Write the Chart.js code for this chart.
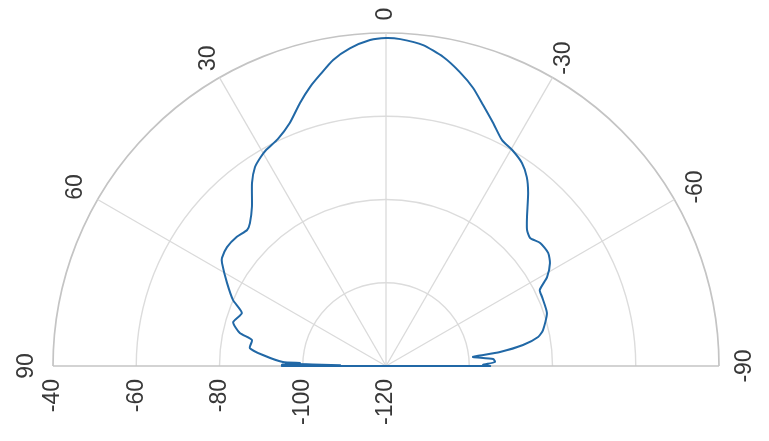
<!DOCTYPE html>
<html>
<head>
<meta charset="utf-8">
<script src="https://cdn.jsdelivr.net/npm/chart.js@4/dist/chart.umd.min.js"></script>
<style>
  html, body { margin: 0; padding: 0; background: #ffffff; }
  #wrap { width: 769px; height: 441px; }
</style>
</head>
<body>
<div id="wrap"><canvas id="c" width="769" height="441"></canvas></div>
<script>
// Radiation pattern, half plane: angle in degrees (0 = boresight, positive to the left)
const angleDeg = [-90, -90, -89.4, -87.9, -86.3, -84.1, -83.7, -83.0, -81.3, -79.2, -77.1, -71.8,
  -66.1, -63.7, -61.1, -57.9, -55.1, -51.4, -48.4, -46.0, -43.4, -39.4, -36.7, -33.8, -30.3,
  -27.2, -23.8, -20.4, -17.4, -14.1, -10.5, -6.6, -2.5, 0, 2.8, 6.5, 9.8, 12.8, 15.2, 18.1,
  21.6, 25.5, 28.9, 31.0, 33.4, 36.2, 40.1, 43.6, 45.6, 49.1, 53.2, 56.6, 57.9, 62.4, 66.7,
  69.8, 74.0, 77.3, 79.0, 82.5, 84.9, 87.8, 88.0, 88.6, 89.0, 89.3, 89.5, 89.7, 89.85, 90, 90];
// Level in dB at each angle
const gainDb = [-120, -95.0, -96.7, -93.8, -94.2, -99.0, -98.0, -92.4, -86.7, -82.8, -81.3, -79.3,
  -79.0, -78.8, -75.8, -73.5, -72.5, -72.6, -73.7, -72.9, -70.7, -66.2, -63.4, -61.3, -59.9,
  -59.0, -56.2, -53.1, -50.0, -47.2, -44.5, -42.4, -41.4, -41.2, -41.6, -43.2, -45.4, -48.3,
  -50.5, -53.5, -57.2, -59.6, -60.6, -61.5, -62.8, -65.5, -70.0, -72.6, -73.3, -72.6, -72.3,
  -72.8, -73.5, -76.9, -80.0, -83.1, -81.8, -84.0, -87.2, -87.0, -90.3, -95.2, -99.3, -96,
  -109, -95, -108, -96, -109, -95, -120];

// Axis ticks
const radialTicks = [-40, -60, -80, -100, -120];
const angleTicks = [0, 30, -30, 60, -60, 90, -90];
const rMin = -120, rMax = -40;

const toRad = d => d * Math.PI / 180;
const norm = db => (db - rMin) / (rMax - rMin);

const points = angleDeg.map((a, i) => {
  const r = norm(gainDb[i]);
  return { x: -r * Math.sin(toRad(a)), y: r * Math.cos(toRad(a)) };
});

const labelFont = '23px "Liberation Sans", Arial, Helvetica, sans-serif';
const textColor = '#383838';

const polarGrid = {
  id: 'polarGrid',
  beforeDatasetsDraw(chart) {
    const { ctx, scales: { x, y } } = chart;
    const cx = x.getPixelForValue(0), cy = y.getPixelForValue(0);
    const R = x.getPixelForValue(1) - cx;
    ctx.save();
    // rings
    radialTicks.forEach(t => {
      if (t === rMin) return;
      const r = norm(t) * R;
      ctx.beginPath();
      ctx.arc(cx, cy, r, Math.PI, 2 * Math.PI);
      ctx.strokeStyle = t === rMax ? '#c4c4c4' : '#dcdcdc';
      ctx.lineWidth = t === rMax ? 1.7 : 1.4;
      ctx.stroke();
    });
    // spokes
    angleTicks.forEach(a => {
      const edge = Math.abs(a) === 90;
      ctx.beginPath();
      ctx.moveTo(cx, cy);
      ctx.lineTo(cx - R * Math.sin(toRad(a)), cy - R * Math.cos(toRad(a)));
      ctx.strokeStyle = edge ? '#c4c4c4' : '#dadada';
      ctx.lineWidth = edge ? 1.7 : 1.3;
      ctx.stroke();
    });
    ctx.restore();
  },
  afterDraw(chart) {
    const { ctx, scales: { x, y } } = chart;
    const cx = x.getPixelForValue(0), cy = y.getPixelForValue(0);
    const R = x.getPixelForValue(1) - cx;
    ctx.save();
    ctx.font = labelFont;
    ctx.fillStyle = textColor;
    // angle labels, rotated like the rest of the figure
    angleTicks.forEach(a => {
      const ux = -Math.sin(toRad(a)), uy = -Math.cos(toRad(a));
      const d = R + 19 + 7 * Math.abs(ux);
      ctx.save();
      ctx.translate(cx + ux * d, cy + uy * d);
      ctx.rotate(-Math.PI / 2);
      ctx.textAlign = 'center';
      ctx.textBaseline = 'middle';
      ctx.fillText(String(a), 0, 0);
      ctx.restore();
    });
    // radial labels along the 90° baseline
    radialTicks.forEach(t => {
      const px = cx - norm(t) * R;
      ctx.save();
      ctx.translate(px, cy + 13);
      ctx.rotate(-Math.PI / 2);
      ctx.textAlign = 'right';
      ctx.textBaseline = 'middle';
      ctx.fillText(String(t), 0, 0);
      ctx.restore();
    });
    ctx.restore();
  }
};

new Chart(document.getElementById('c'), {
  type: 'scatter',
  data: {
    datasets: [{
      data: points,
      showLine: true,
      borderColor: '#2168a6',
      borderWidth: 2,
      pointRadius: 0,
      tension: 0.2,
      clip: false
    }]
  },
  options: {
    responsive: false,
    animation: false,
    layout: { padding: { left: 53, right: 50, top: 33, bottom: 75 } },
    plugins: { legend: { display: false }, tooltip: { enabled: false } },
    scales: {
      x: { type: 'linear', min: -1, max: 1, display: false },
      y: { type: 'linear', min: 0, max: 1, display: false }
    }
  },
  plugins: [polarGrid]
});
</script>
</body>
</html>
